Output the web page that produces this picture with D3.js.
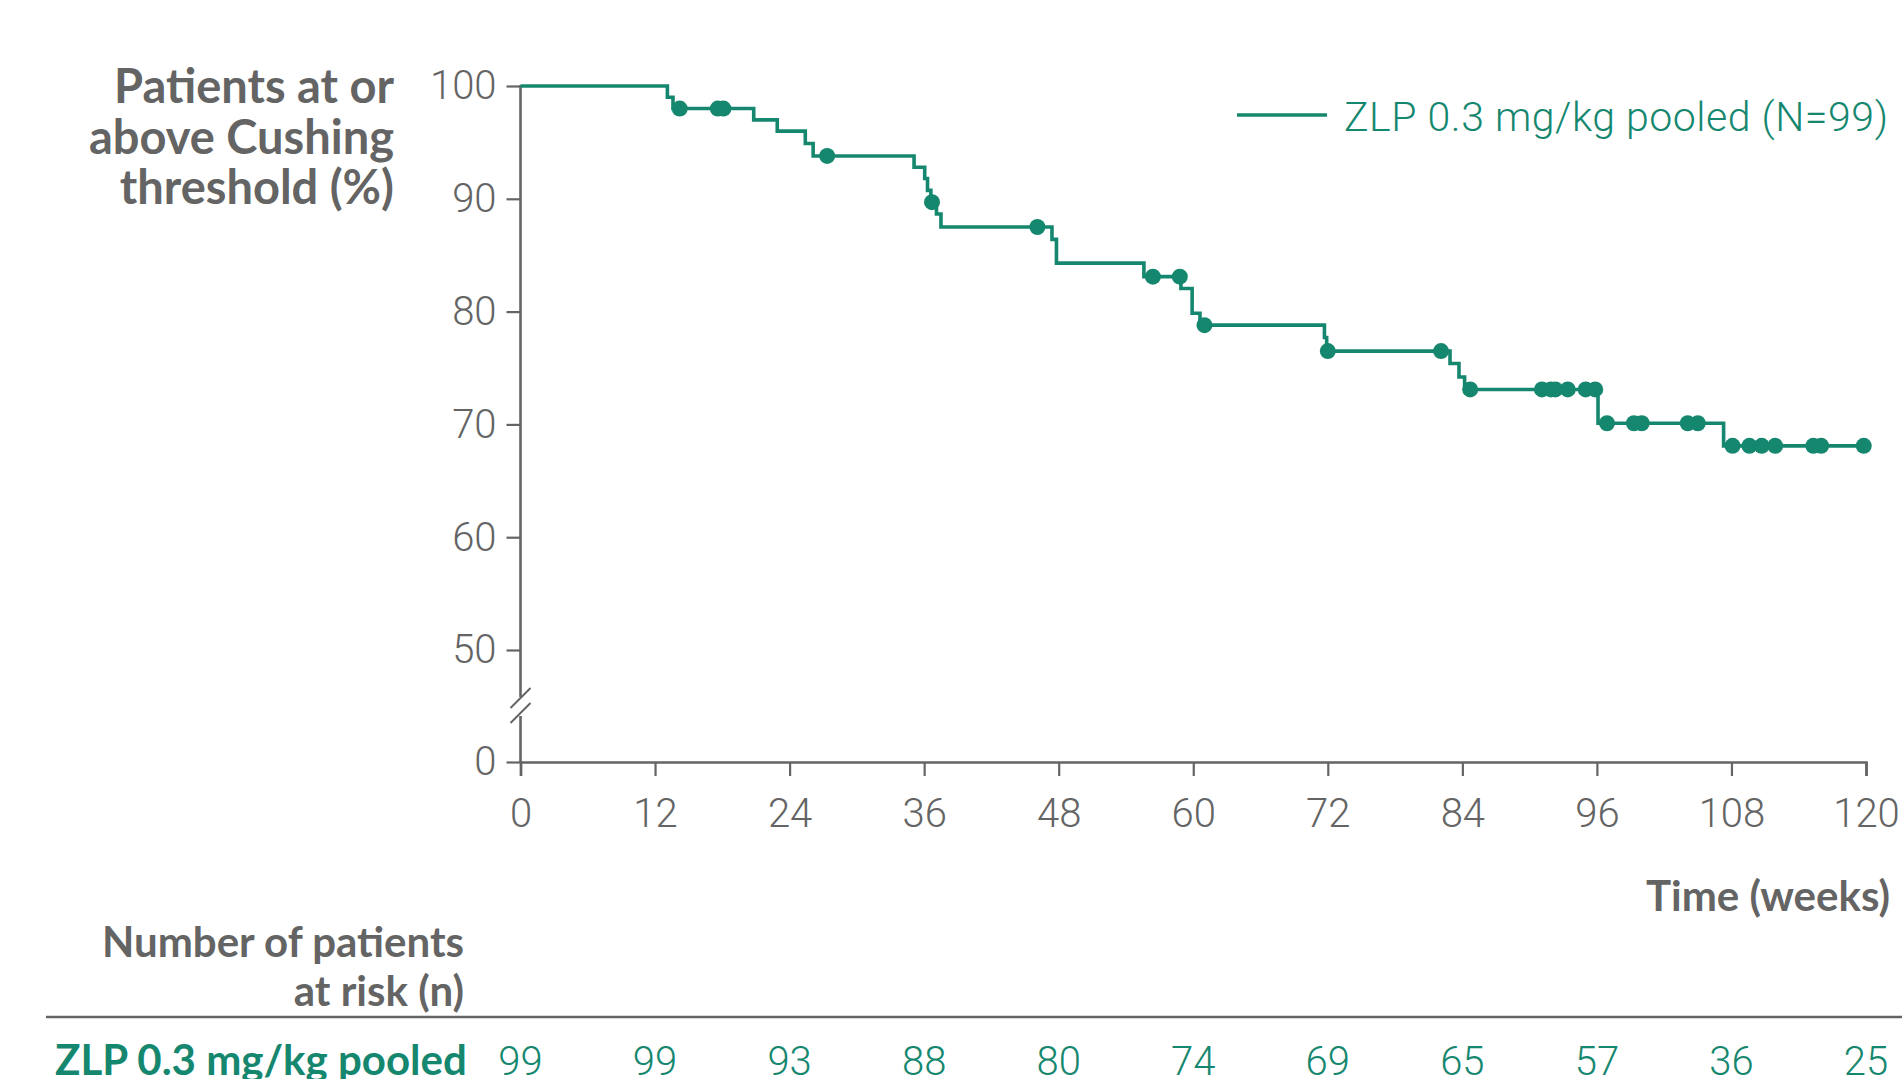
<!DOCTYPE html>
<html lang="en">
<head>
  <meta charset="utf-8">
  <title>Patients at or above Cushing threshold</title>
  <script src="https://d3js.org/d3.v7.min.js"></script>
  <style>
    body { margin: 0; background: #fff; }
    svg { display: block; font-family: Lato, "Open Sans", sans-serif; }
    .light { font-family: Roboto, Lato, sans-serif; font-weight: 300; }
  </style>
</head>
<body>
  <div id="km-chart"></div>

  <script>
    // Kaplan-Meier steps: week of each drop and the % after it
    const stepWeeks = [0, 13.1, 13.6, 20.8, 22.9, 25.4, 26.1, 35.1, 36.05, 36.3, 36.6, 37.1, 37.5,
      47.4, 47.8, 55.6, 58.9, 59.9, 60.6, 71.7, 71.9, 82.9, 83.7, 84.2, 96.1, 107.3];
    const stepPct = [100, 99.0, 98.0, 97.0, 96.0, 94.9, 93.8, 92.8, 91.8, 90.75, 89.7, 88.65, 87.5,
      86.4, 84.3, 83.1, 82.05, 79.85, 78.8, 77.7, 76.5, 75.4, 74.2, 73.1, 70.1, 68.1];

    // censored observations (weeks)
    const censorWeeks = [14.2, 17.6, 18.1, 27.35, 36.7, 46.1, 56.4, 58.8, 61.0, 72.0, 82.1, 84.7,
      91.1, 91.9, 92.3, 93.4, 95.0, 95.85, 96.9, 99.3, 100.0, 104.1, 105.0,
      108.1, 109.6, 110.7, 111.9, 115.3, 116.0, 119.8];

    const xTicks = [0, 12, 24, 36, 48, 60, 72, 84, 96, 108, 120];
    const yTicks = [0, 50, 60, 70, 80, 90, 100];
    const atRisk = [99, 99, 93, 88, 80, 74, 69, 65, 57, 36, 25];
    const seriesName = "ZLP 0.3 mg/kg pooled";

    const teal = "#16876f", grey = "#646464";
    const W = 1902, H = 1079;

    const svg = d3.select("#km-chart").append("svg")
      .attr("width", W).attr("height", H);

    const x = d3.scaleLinear().domain([0, 120]).range([520.5, 1866]);
    // broken axis: 0 sits below the 50-100 band
    const y = d3.scaleLinear().domain([0, 50, 100]).range([762, 650, 86]);

    // y axis
    const yAxis = svg.append("g")
      .attr("transform", "translate(" + x(0) + ",0)")
      .call(d3.axisLeft(y).tickValues(yTicks).tickSize(14).tickPadding(10));
    yAxis.select(".domain").remove();
    yAxis.selectAll(".tick line").attr("stroke", grey).attr("stroke-width", 2.2);
    yAxis.selectAll(".tick text").attr("fill", grey).attr("class", "light")
      .attr("font-family", null).style("font-size", "40px");

    const axisLine = svg.append("g").attr("stroke", grey).attr("stroke-width", 2.6).attr("fill", "none");
    axisLine.append("line").attr("x1", x(0)).attr("x2", x(0)).attr("y1", y(100) - 1).attr("y2", 697);
    axisLine.append("line").attr("x1", x(0)).attr("x2", x(0)).attr("y1", 716).attr("y2", y(0));
    // break marks
    axisLine.append("line").attr("x1", x(0) - 10).attr("y1", 708).attr("x2", x(0) + 10).attr("y2", 688).attr("stroke-width", 2);
    axisLine.append("line").attr("x1", x(0) - 10).attr("y1", 723).attr("x2", x(0) + 10).attr("y2", 703).attr("stroke-width", 2);

    // x axis
    const xAxis = svg.append("g")
      .attr("transform", "translate(0," + y(0) + ")")
      .call(d3.axisBottom(x).tickValues(xTicks).tickSize(14).tickPadding(23));
    xAxis.select(".domain").attr("stroke", grey).attr("stroke-width", 2.6);
    xAxis.selectAll(".tick line").attr("stroke", grey).attr("stroke-width", 2.2);
    xAxis.selectAll(".tick text").attr("fill", grey).attr("class", "light")
      .attr("font-family", null).style("font-size", "40px");

    // survival curve
    const pts = stepWeeks.map((w, i) => [w, stepPct[i]]);
    pts.push([d3.max(censorWeeks), stepPct[stepPct.length - 1]]);

    const line = d3.line()
      .x(d => x(d[0]))
      .y(d => y(d[1]))
      .curve(d3.curveStepAfter);

    svg.append("path")
      .datum(pts)
      .attr("d", line)
      .attr("fill", "none")
      .attr("stroke", teal)
      .attr("stroke-width", 3.6);

    const pctAt = w => stepPct[d3.bisectRight(stepWeeks, w) - 1];

    svg.append("g").selectAll("circle").data(censorWeeks).enter()
      .append("circle")
      .attr("cx", d => x(d))
      .attr("cy", d => y(pctAt(d)))
      .attr("r", 8)
      .attr("fill", teal);

    // legend
    svg.append("line")
      .attr("x1", 1237).attr("x2", 1327).attr("y1", 115).attr("y2", 115)
      .attr("stroke", teal).attr("stroke-width", 3.6);
    svg.append("text")
      .attr("x", 1344).attr("y", 131)
      .attr("class", "light")
      .attr("fill", teal).style("font-size", "41px")
      .attr("textLength", 544)
      .text(seriesName + " (N=99)");

    // axis titles
    svg.append("text")
      .attr("text-anchor", "end").attr("fill", grey)
      .style("font-size", "47px").style("font-weight", 700)
      .selectAll("tspan").data(["Patients at or", "above Cushing", "threshold (%)"]).enter()
      .append("tspan")
      .attr("x", 394)
      .attr("y", (d, i) => 103 + i * 50.5)
      .text(d => d);

    svg.append("text")
      .attr("x", 1890).attr("y", 911)
      .attr("text-anchor", "end").attr("fill", grey)
      .style("font-size", "42px").style("font-weight", 700)
      .text("Time (weeks)");

    // number at risk table
    svg.append("text")
      .attr("text-anchor", "end").attr("fill", grey)
      .style("font-size", "42px").style("font-weight", 700)
      .selectAll("tspan").data(["Number of patients", "at risk (n)"]).enter()
      .append("tspan")
      .attr("x", 464)
      .attr("y", (d, i) => 957 + i * 49)
      .text(d => d);

    svg.append("line")
      .attr("x1", 46).attr("x2", W).attr("y1", 1017).attr("y2", 1017)
      .attr("stroke", grey).attr("stroke-width", 2.6);

    svg.append("text")
      .attr("x", 55).attr("y", 1075)
      .attr("fill", teal)
      .style("font-size", "42px").style("font-weight", 700)
      .text(seriesName);

    svg.append("g").selectAll("text").data(atRisk).enter()
      .append("text")
      .attr("class", "light")
      .attr("x", (d, i) => x(xTicks[i]))
      .attr("y", 1075)
      .attr("text-anchor", "middle")
      .attr("fill", teal)
      .style("font-size", "40px")
      .text(d => d);
  </script>
</body>
</html>
